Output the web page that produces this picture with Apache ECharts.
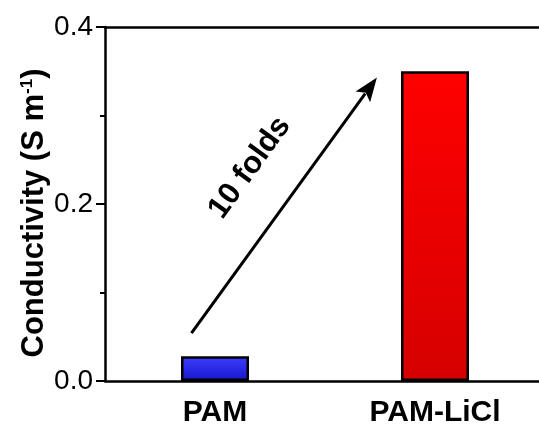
<!DOCTYPE html>
<html>
<head>
<meta charset="utf-8">
<script src="https://cdn.jsdelivr.net/npm/echarts@6/dist/echarts.min.js"></script>
<style>
  html, body { margin: 0; padding: 0; background: #fff; }
  #chart { width: 539px; height: 428px; }
</style>
</head>
<body>
<div id="chart"></div>
<script>
// Sample names and measured conductivity (S m^-1)
const categories = ['PAM', 'PAM-LiCl'];
const conductivity = [0.028, 0.35];

// Value axis range and tick labels
const yMin = 0, yMax = 0.4, yStep = 0.2;

// Annotation: arrow from [category position, value] to [category position, value]
const arrowFrom = [-0.107, 0.054];
const arrowTo = [0.736, 0.343];
const noteText = '10 folds';
const notePos = [0.158, 0.241];

const FONT = '"Liberation Sans", Arial, sans-serif';

const barColors = [
  new echarts.graphic.LinearGradient(0, 0, 0, 1, [
    { offset: 0, color: '#3d3dff' },
    { offset: 1, color: '#1818cc' }
  ]),
  new echarts.graphic.LinearGradient(0, 0, 0, 1, [
    { offset: 0, color: '#ff0000' },
    { offset: 1, color: '#d60000' }
  ])
];

const chart = echarts.init(document.getElementById('chart'), null, { renderer: 'canvas' });

chart.setOption({
  animation: false,
  backgroundColor: '#ffffff',
  // plot area runs slightly past the right edge of the canvas
  grid: { left: 105, right: -6, top: 27, bottom: 47, containLabel: false, outerBoundsMode: 'none' },
  xAxis: [
    {
      type: 'category',
      data: categories,
      position: 'bottom',
      axisLine: { show: true, lineStyle: { color: '#000', width: 2.5 } },
      axisTick: { show: false },
      axisLabel: {
        margin: 17,
        color: '#000',
        fontFamily: FONT,
        fontWeight: 'bold',
        fontSize: 30
      }
    },
    {
      type: 'category',
      data: categories,
      position: 'top',
      axisLine: { show: true, lineStyle: { color: '#000', width: 2.5 } },
      axisTick: { show: false },
      axisLabel: { show: false }
    }
  ],
  yAxis: {
    type: 'value',
    min: yMin,
    max: yMax,
    interval: yStep,
    axisLine: { show: true, lineStyle: { color: '#000', width: 2.5 } },
    axisTick: { show: true, length: 9, lineStyle: { color: '#000', width: 2 } },
    minorTick: { show: true, splitNumber: 2, length: 5, lineStyle: { color: '#000', width: 2 } },
    splitLine: { show: false },
    axisLabel: {
      margin: 12,
      color: '#000',
      fontFamily: FONT,
      fontSize: 28,
      formatter: v => v.toFixed(1)
    },
    name: '{a|Conductivity (S m}{sup|-1}{a|)}',
    nameLocation: 'middle',
    nameGap: 55,
    nameMoveOverlap: false,
    nameRotate: 90,
    nameTextStyle: {
      padding: [0, 18, 0, 0],
      rich: {
        a: { fontFamily: FONT, fontWeight: 'bold', fontSize: 31, color: '#000' },
        sup: { fontFamily: FONT, fontWeight: 'bold', fontSize: 17, color: '#000', verticalAlign: 'top' }
      }
    }
  },
  series: [{
    type: 'bar',
    barWidth: 68,
    data: conductivity.map((v, i) => ({ value: v, itemStyle: { color: barColors[i] } })),
    itemStyle: { borderColor: '#000', borderWidth: 2.5 }
  }]
});

// Map a [fractional category position, value] pair to pixels
function toPixel(pt) {
  const a = chart.convertToPixel({ gridIndex: 0 }, [0, pt[1]]);
  const b = chart.convertToPixel({ gridIndex: 0 }, [1, pt[1]]);
  return [a[0] + pt[0] * (b[0] - a[0]), a[1]];
}

const p0 = toPixel(arrowFrom);
const p1 = toPixel(arrowTo);
const dx = p1[0] - p0[0], dy = p1[1] - p0[1];
const len = Math.sqrt(dx * dx + dy * dy);
const ux = dx / len, uy = dy / len;
const headLen = 24, headHalf = 9;
const base = [p1[0] - ux * headLen, p1[1] - uy * headLen];
const nx = -uy, ny = ux;
const tp = toPixel(notePos);
const angle = Math.atan2(-dy, dx);

chart.setOption({
  graphic: [
    {
      type: 'line',
      shape: { x1: p0[0], y1: p0[1], x2: base[0] + ux * 4, y2: base[1] + uy * 4 },
      style: { stroke: '#000', lineWidth: 3 },
      z: 100
    },
    {
      type: 'polygon',
      shape: {
        points: [
          p1,
          [base[0] + nx * headHalf, base[1] + ny * headHalf],
          [base[0] + ux * 5, base[1] + uy * 5],
          [base[0] - nx * headHalf, base[1] - ny * headHalf]
        ]
      },
      style: { fill: '#000' },
      z: 100
    },
    {
      type: 'text',
      x: tp[0],
      y: tp[1],
      rotation: angle,
      style: {
        text: noteText,
        fontFamily: FONT,
        fontWeight: 'bold',
        fontSize: 31,
        fill: '#000',
        align: 'center',
        verticalAlign: 'middle'
      },
      z: 100
    }
  ]
});
</script>
</body>
</html>
